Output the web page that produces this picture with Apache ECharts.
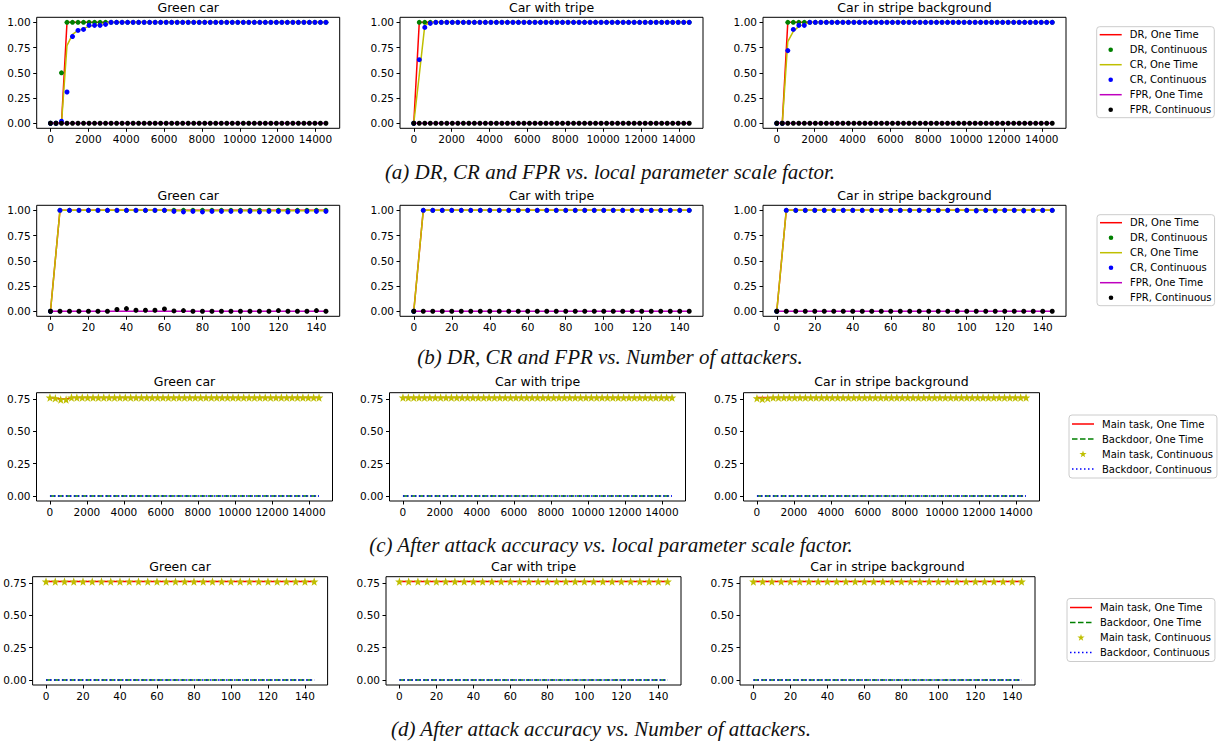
<!DOCTYPE html>
<html>
<head>
<meta charset="utf-8">
<script src="https://cdn.jsdelivr.net/npm/echarts@6/dist/echarts.min.js"></script>
<style>
html,body{margin:0;padding:0;background:#fff;}
#chart{width:1225px;height:744px;}
</style>
</head>
<body>
<div id="chart"></div>
<script>
// ---------------- DATA ----------------
const panelTitles = ['Green car', 'Car with tripe', 'Car in stripe background'];
const captions = [
  '(a) DR, CR and FPR vs. local parameter scale factor.',
  '(b) DR, CR and FPR vs. Number of attackers.',
  '(c) After attack accuracy vs. local parameter scale factor.',
  '(d) After attack accuracy vs. Number of attackers.'
];
const drcrNames = ['DR, One Time', 'DR, Continuous', 'CR, One Time', 'CR, Continuous', 'FPR, One Time', 'FPR, Continuous'];
const accNames = ['Main task, One Time', 'Backdoor, One Time', 'Main task, Continuous', 'Backdoor, Continuous'];

const scaleTicks = [0, 2000, 4000, 6000, 8000, 10000, 12000, 14000];
const attackerTicks = [0, 20, 40, 60, 80, 100, 120, 140];
const rateTicks = [0, 0.25, 0.5, 0.75, 1];
const accTicks = [0, 0.25, 0.5, 0.75];

// local parameter scale factor (x of rows a, c)
const xScale = [0,291,582,873,1164,1455,1746,2037,2328,2619,
  2910,3201,3492,3783,4074,4365,4656,4947,5238,5529,
  5820,6111,6402,6693,6984,7275,7566,7857,8148,8439,
  8730,9021,9312,9603,9894,10185,10476,10767,11058,11349,
  11640,11931,12222,12513,12804,13095,13386,13677,13968,14259,
  14550];
// number of attackers (x of rows b, d)
const xAttackers = [0,5,10,15,20,25,30,35,40,45,
  50,55,60,65,70,75,80,85,90,95,
  100,105,110,115,120,125,130,135,140,145];

// ---- (a) Green car ----
const aGreenDrOne = [0,0,0,1,1,1,1,1,1,1, 1,1,1,1,1,1,1,1,1,1, 1,1,1,1,1,1,1,1,1,1, 1,1,1,1,1,1,1,1,1,1, 1,1,1,1,1,1,1,1,1,1, 1];
const aGreenDrCont = [0,0,0.5,1,1,1,1,1,1,1, 1,1,1,1,1,1,1,1,1,1, 1,1,1,1,1,1,1,1,1,1, 1,1,1,1,1,1,1,1,1,1, 1,1,1,1,1,1,1,1,1,1, 1];
const aGreenCrOne = [0,0,0,0.77,0.88,0.92,0.94,0.96,0.97,0.98, 0.99,1,1,1,1,1,1,1,1,1, 1,1,1,1,1,1,1,1,1,1, 1,1,1,1,1,1,1,1,1,1, 1,1,1,1,1,1,1,1,1,1, 1];
const aGreenCrCont = [0,0,0.02,0.31,0.86,0.92,0.93,0.97,0.97,0.97, 0.98,1,1,1,1,1,1,1,1,1, 1,1,1,1,1,1,1,1,1,1, 1,1,1,1,1,1,1,1,1,1, 1,1,1,1,1,1,1,1,1,1, 1];
const aGreenFprOne = [0,0,0,0,0,0,0,0,0,0, 0,0,0,0,0,0,0,0,0,0, 0,0,0,0,0,0,0,0,0,0, 0,0,0,0,0,0,0,0,0,0, 0,0,0,0,0,0,0,0,0,0, 0];
const aGreenFprCont = [0,0,0,0,0,0,0,0,0,0, 0,0,0,0,0,0,0,0,0,0, 0,0,0,0,0,0,0,0,0,0, 0,0,0,0,0,0,0,0,0,0, 0,0,0,0,0,0,0,0,0,0, 0];
// ---- (a) Car with tripe ----
const aTripeDrOne = [0,1,1,1,1,1,1,1,1,1, 1,1,1,1,1,1,1,1,1,1, 1,1,1,1,1,1,1,1,1,1, 1,1,1,1,1,1,1,1,1,1, 1,1,1,1,1,1,1,1,1,1, 1];
const aTripeDrCont = [0,1,1,1,1,1,1,1,1,1, 1,1,1,1,1,1,1,1,1,1, 1,1,1,1,1,1,1,1,1,1, 1,1,1,1,1,1,1,1,1,1, 1,1,1,1,1,1,1,1,1,1, 1];
const aTripeCrOne = [0,0.48,0.97,1,1,1,1,1,1,1, 1,1,1,1,1,1,1,1,1,1, 1,1,1,1,1,1,1,1,1,1, 1,1,1,1,1,1,1,1,1,1, 1,1,1,1,1,1,1,1,1,1, 1];
const aTripeCrCont = [0,0.63,0.95,0.99,1,1,1,1,1,1, 1,1,1,1,1,1,1,1,1,1, 1,1,1,1,1,1,1,1,1,1, 1,1,1,1,1,1,1,1,1,1, 1,1,1,1,1,1,1,1,1,1, 1];
const aTripeFprOne = [0,0,0,0,0,0,0,0,0,0, 0,0,0,0,0,0,0,0,0,0, 0,0,0,0,0,0,0,0,0,0, 0,0,0,0,0,0,0,0,0,0, 0,0,0,0,0,0,0,0,0,0, 0];
const aTripeFprCont = [0,0,0,0,0,0,0,0,0,0, 0,0,0,0,0,0,0,0,0,0, 0,0,0,0,0,0,0,0,0,0, 0,0,0,0,0,0,0,0,0,0, 0,0,0,0,0,0,0,0,0,0, 0];
// ---- (a) Car in stripe background ----
const aStripeDrOne = [0,0,1,1,1,1,1,1,1,1, 1,1,1,1,1,1,1,1,1,1, 1,1,1,1,1,1,1,1,1,1, 1,1,1,1,1,1,1,1,1,1, 1,1,1,1,1,1,1,1,1,1, 1];
const aStripeDrCont = [0,0,1,1,1,1,1,1,1,1, 1,1,1,1,1,1,1,1,1,1, 1,1,1,1,1,1,1,1,1,1, 1,1,1,1,1,1,1,1,1,1, 1,1,1,1,1,1,1,1,1,1, 1];
const aStripeCrOne = [0,0,0.81,0.91,0.96,0.98,1,1,1,1, 1,1,1,1,1,1,1,1,1,1, 1,1,1,1,1,1,1,1,1,1, 1,1,1,1,1,1,1,1,1,1, 1,1,1,1,1,1,1,1,1,1, 1];
const aStripeCrCont = [0,0,0.72,0.93,0.97,0.97,1,1,1,1, 1,1,1,1,1,1,1,1,1,1, 1,1,1,1,1,1,1,1,1,1, 1,1,1,1,1,1,1,1,1,1, 1,1,1,1,1,1,1,1,1,1, 1];
const aStripeFprOne = [0,0,0,0,0,0,0,0,0,0, 0,0,0,0,0,0,0,0,0,0, 0,0,0,0,0,0,0,0,0,0, 0,0,0,0,0,0,0,0,0,0, 0,0,0,0,0,0,0,0,0,0, 0];
const aStripeFprCont = [0,0,0,0,0,0,0,0,0,0, 0,0,0,0,0,0,0,0,0,0, 0,0,0,0,0,0,0,0,0,0, 0,0,0,0,0,0,0,0,0,0, 0,0,0,0,0,0,0,0,0,0, 0];

// ---- (b) Green car ----
const bGreenDrOne = [0,1,1,1,1,1,1,1,1,1, 1,1,1,1,1,1,1,1,1,1, 1,1,1,1,1,1,1,1,1,1];
const bGreenDrCont = [0,1,1,1,1,1,1,1,1,1, 1,1,1,1,1,1,1,1,1,1, 1,1,1,1,1,1,1,1,1,1];
const bGreenCrOne = [0,1,1,1,1,1,1,1,1,1, 1,1,1,0.995,0.995,0.995,0.995,0.995,0.995,0.995, 0.995,0.995,0.995,0.995,0.995,0.995,0.995,0.995,0.995,0.995];
const bGreenCrCont = [0,1,1,1,1,1,1,1,1,1, 1,1,1,0.99,0.985,0.99,0.985,0.99,0.99,0.99, 0.99,0.99,0.985,0.99,0.99,0.985,0.99,0.99,0.99,0.99];
const bGreenFprOne = [0,0,0,0,0,0,0,0,0,0, 0,0,0,0,0,0,0,0,0,0, 0,0,0,0,0,0,0,0,0,0];
const bGreenFprCont = [0,0,0,0,0,0,0,0.017,0.026,0.01, 0.01,0.01,0.023,0.003,0.007,0,0,0,0,0, 0,0,0,0,0.007,0,0,0,0.007,0];
// ---- (b) Car with tripe ----
const bTripeDrOne = [0,1,1,1,1,1,1,1,1,1, 1,1,1,1,1,1,1,1,1,1, 1,1,1,1,1,1,1,1,1,1];
const bTripeDrCont = [0,1,1,1,1,1,1,1,1,1, 1,1,1,1,1,1,1,1,1,1, 1,1,1,1,1,1,1,1,1,1];
const bTripeCrOne = [0,1,1,1,1,1,1,1,1,1, 1,1,1,1,1,1,1,1,1,1, 1,1,1,1,1,1,1,1,1,1];
const bTripeCrCont = [0,1,1,1,1,1,1,1,1,1, 1,1,1,1,1,1,1,1,1,1, 1,1,1,1,1,1,1,1,1,1];
const bTripeFprOne = [0,0,0,0,0,0,0,0,0,0, 0,0,0,0,0,0,0,0,0,0, 0,0,0,0,0,0,0,0,0,0];
const bTripeFprCont = [0,0,0,0,0,0,0,0,0,0, 0,0,0,0,0,0,0,0,0,0, 0,0,0,0,0,0,0,0,0,0];
// ---- (b) Car in stripe background ----
const bStripeDrOne = [0,1,1,1,1,1,1,1,1,1, 1,1,1,1,1,1,1,1,1,1, 1,1,1,1,1,1,1,1,1,1];
const bStripeDrCont = [0,1,1,1,1,1,1,1,1,1, 1,1,1,1,1,1,1,1,1,1, 1,1,1,1,1,1,1,1,1,1];
const bStripeCrOne = [0,1,1,1,1,1,1,1,1,1, 1,1,1,1,1,1,1,1,1,1, 1,1,1,1,1,1,1,1,1,1];
const bStripeCrCont = [0,1,1,1,1,1,1,1,1,1, 1,1,1,1,1,1,1,1,1,1, 1,0.995,1,0.995,1,1,0.995,1,1,1];
const bStripeFprOne = [0,0,0,0,0,0,0,0,0,0, 0,0,0,0,0,0,0,0,0,0, 0,0,0,0,0,0,0,0,0,0];
const bStripeFprCont = [0,0,0,0,0,0,0,0,0,0, 0,0,0,0,0,0,0,0,0,0, 0,0,0,0,0,0,0,0,0,0];

// ---- (c) accuracy vs scale factor ----
const cGreenMainOne = [0.76,0.755,0.75,0.75,0.76,0.76,0.76,0.76,0.76,0.76, 0.76,0.76,0.76,0.76,0.76,0.76,0.76,0.76,0.76,0.76, 0.76,0.76,0.76,0.76,0.76,0.76,0.76,0.76,0.76,0.76, 0.76,0.76,0.76,0.76,0.76,0.76,0.76,0.76,0.76,0.76, 0.76,0.76,0.76,0.76,0.76,0.76,0.76,0.76,0.76,0.76, 0.76];
const cGreenBackOne = [0,0,0,0,0,0,0,0,0,0, 0,0,0,0,0,0,0,0,0,0, 0,0,0,0,0,0,0,0,0,0, 0,0,0,0,0,0,0,0,0,0, 0,0,0,0,0,0,0,0,0,0, 0];
const cGreenMainCont = [0.76,0.755,0.745,0.745,0.76,0.76,0.76,0.76,0.76,0.76, 0.76,0.76,0.76,0.76,0.76,0.76,0.76,0.76,0.76,0.76, 0.76,0.76,0.76,0.76,0.76,0.76,0.76,0.76,0.76,0.76, 0.76,0.76,0.76,0.76,0.76,0.76,0.76,0.76,0.76,0.76, 0.76,0.76,0.76,0.76,0.76,0.76,0.76,0.76,0.76,0.76, 0.76];
const cGreenBackCont = [0,0,0,0,0,0,0,0,0,0, 0,0,0,0,0,0,0,0,0,0, 0,0,0,0,0,0,0,0,0,0, 0,0,0,0,0,0,0,0,0,0, 0,0,0,0,0,0,0,0,0,0, 0];
const cTripeMainOne = [0.76,0.76,0.76,0.76,0.76,0.76,0.76,0.76,0.76,0.76, 0.76,0.76,0.76,0.76,0.76,0.76,0.76,0.76,0.76,0.76, 0.76,0.76,0.76,0.76,0.76,0.76,0.76,0.76,0.76,0.76, 0.76,0.76,0.76,0.76,0.76,0.76,0.76,0.76,0.76,0.76, 0.76,0.76,0.76,0.76,0.76,0.76,0.76,0.76,0.76,0.76, 0.76];
const cTripeBackOne = [0,0,0,0,0,0,0,0,0,0, 0,0,0,0,0,0,0,0,0,0, 0,0,0,0,0,0,0,0,0,0, 0,0,0,0,0,0,0,0,0,0, 0,0,0,0,0,0,0,0,0,0, 0];
const cTripeMainCont = [0.76,0.76,0.76,0.76,0.76,0.76,0.76,0.76,0.76,0.76, 0.76,0.76,0.76,0.76,0.76,0.76,0.76,0.76,0.76,0.76, 0.76,0.76,0.76,0.76,0.76,0.76,0.76,0.76,0.76,0.76, 0.76,0.76,0.76,0.76,0.76,0.76,0.76,0.76,0.76,0.76, 0.76,0.76,0.76,0.76,0.76,0.76,0.76,0.76,0.76,0.76, 0.76];
const cTripeBackCont = [0,0,0,0,0,0,0,0,0,0, 0,0,0,0,0,0,0,0,0,0, 0,0,0,0,0,0,0,0,0,0, 0,0,0,0,0,0,0,0,0,0, 0,0,0,0,0,0,0,0,0,0, 0];
const cStripeMainOne = [0.76,0.76,0.76,0.76,0.76,0.76,0.76,0.76,0.76,0.76, 0.76,0.76,0.76,0.76,0.76,0.76,0.76,0.76,0.76,0.76, 0.76,0.76,0.76,0.76,0.76,0.76,0.76,0.76,0.76,0.76, 0.76,0.76,0.76,0.76,0.76,0.76,0.76,0.76,0.76,0.76, 0.76,0.76,0.76,0.76,0.76,0.76,0.76,0.76,0.76,0.76, 0.76];
const cStripeBackOne = [0,0,0,0,0,0,0,0,0,0, 0,0,0,0,0,0,0,0,0,0, 0,0,0,0,0,0,0,0,0,0, 0,0,0,0,0,0,0,0,0,0, 0,0,0,0,0,0,0,0,0,0, 0];
const cStripeMainCont = [0.755,0.75,0.755,0.76,0.76,0.76,0.76,0.76,0.76,0.76, 0.76,0.76,0.76,0.76,0.76,0.76,0.76,0.76,0.76,0.76, 0.76,0.76,0.76,0.76,0.76,0.76,0.76,0.76,0.76,0.76, 0.76,0.76,0.76,0.76,0.76,0.76,0.76,0.76,0.76,0.76, 0.76,0.76,0.76,0.76,0.76,0.76,0.76,0.76,0.76,0.76, 0.76];
const cStripeBackCont = [0,0,0,0,0,0,0,0,0,0, 0,0,0,0,0,0,0,0,0,0, 0,0,0,0,0,0,0,0,0,0, 0,0,0,0,0,0,0,0,0,0, 0,0,0,0,0,0,0,0,0,0, 0];

// ---- (d) accuracy vs number of attackers ----
const dGreenMainOne = [0.76,0.76,0.76,0.76,0.76,0.76,0.76,0.76,0.76,0.76, 0.76,0.76,0.76,0.76,0.76,0.76,0.76,0.76,0.76,0.76, 0.76,0.76,0.76,0.76,0.76,0.76,0.76,0.76,0.76,0.76];
const dGreenBackOne = [0,0,0,0,0,0,0,0,0,0, 0,0,0,0,0,0,0,0,0,0, 0,0,0,0,0,0,0,0,0,0];
const dGreenMainCont = [0.76,0.76,0.76,0.76,0.76,0.76,0.76,0.76,0.76,0.76, 0.76,0.76,0.76,0.76,0.76,0.76,0.76,0.76,0.76,0.76, 0.76,0.76,0.76,0.76,0.76,0.76,0.76,0.76,0.76,0.76];
const dGreenBackCont = [0,0,0,0,0,0,0,0,0,0, 0,0,0,0,0,0,0,0,0,0, 0,0,0,0,0,0,0,0,0,0];
const dTripeMainOne = [0.76,0.76,0.76,0.76,0.76,0.76,0.76,0.76,0.76,0.76, 0.76,0.76,0.76,0.76,0.76,0.76,0.76,0.76,0.76,0.76, 0.76,0.76,0.76,0.76,0.76,0.76,0.76,0.76,0.76,0.76];
const dTripeBackOne = [0,0,0,0,0,0,0,0,0,0, 0,0,0,0,0,0,0,0,0,0, 0,0,0,0,0,0,0,0,0,0];
const dTripeMainCont = [0.76,0.76,0.76,0.76,0.76,0.76,0.76,0.76,0.76,0.76, 0.76,0.76,0.76,0.76,0.76,0.76,0.76,0.76,0.76,0.76, 0.76,0.76,0.76,0.76,0.76,0.76,0.76,0.76,0.76,0.76];
const dTripeBackCont = [0,0,0,0,0,0,0,0,0,0, 0,0,0,0,0,0,0,0,0,0, 0,0,0,0,0,0,0,0,0,0];
const dStripeMainOne = [0.76,0.76,0.76,0.76,0.76,0.76,0.76,0.76,0.76,0.76, 0.76,0.76,0.76,0.76,0.76,0.76,0.76,0.76,0.76,0.76, 0.76,0.76,0.76,0.76,0.76,0.76,0.76,0.76,0.76,0.76];
const dStripeBackOne = [0,0,0,0,0,0,0,0,0,0, 0,0,0,0,0,0,0,0,0,0, 0,0,0,0,0,0,0,0,0,0];
const dStripeMainCont = [0.76,0.76,0.76,0.76,0.76,0.76,0.76,0.76,0.76,0.76, 0.76,0.76,0.76,0.76,0.76,0.76,0.76,0.76,0.76,0.76, 0.76,0.76,0.76,0.76,0.76,0.76,0.76,0.76,0.76,0.76];
const dStripeBackCont = [0,0,0,0,0,0,0,0,0,0, 0,0,0,0,0,0,0,0,0,0, 0,0,0,0,0,0,0,0,0,0];

// ---------------- STYLE / LAYOUT ----------------
const FONT = 'DejaVu Sans';
const BOX = 'M0,0M22,0M22,10M0,10';
const DOT_ICON = 'path://' + BOX + 'M13.3,5A2.3,2.3,0,1,1,8.7,5A2.3,2.3,0,1,1,13.3,5Z';
const STAR_ICON = 'path://' + BOX + 'M11,1.4L11.85,4L14.6,4.05L12.4,5.7L13.2,8.35L11,6.8L8.8,8.35L9.6,5.7L7.4,4.05L10.15,4Z';
const SOLID_ICON = 'path://' + BOX + 'M0,4.25L22,4.25L22,5.75L0,5.75Z';
const DASH_ICON = 'path://' + BOX + 'M0,4.25L5.5,4.25L5.5,5.75L0,5.75ZM8,4.25L13.5,4.25L13.5,5.75L8,5.75ZM16,4.25L21.5,4.25L21.5,5.75L16,5.75Z';
const DOTTED_ICON = 'path://' + BOX + 'M0,4.25L1.5,4.25L1.5,5.75L0,5.75ZM4,4.25L5.5,4.25L5.5,5.75L4,5.75ZM8,4.25L9.5,4.25L9.5,5.75L8,5.75ZM12,4.25L13.5,4.25L13.5,5.75L12,5.75ZM16,4.25L17.5,4.25L17.5,5.75L16,5.75ZM20,4.25L21.5,4.25L21.5,5.75L20,5.75Z';
const STAR = 'path://M0,-10L2.35,-3.24L9.51,-3.09L3.8,1.24L5.88,8.09L0,4L-5.88,8.09L-3.8,1.24L-9.51,-3.09L-2.35,-3.24Z';

const styles = {
  'DR, One Time': {kind: 'line', color: '#ff0000', icon: SOLID_ICON},
  'DR, Continuous': {kind: 'dot', color: '#008000', size: 5, icon: DOT_ICON},
  'CR, One Time': {kind: 'line', color: '#bfbf00', icon: SOLID_ICON},
  'CR, Continuous': {kind: 'dot', color: '#0000ff', size: 5, icon: DOT_ICON},
  'FPR, One Time': {kind: 'line', color: '#bf00bf', icon: SOLID_ICON},
  'FPR, Continuous': {kind: 'dot', color: '#000000', size: 5, icon: DOT_ICON},
  'Main task, One Time': {kind: 'line', color: '#ff0000', icon: SOLID_ICON},
  'Backdoor, One Time': {kind: 'line', color: '#008000', dash: [5.5, 2.4], icon: DASH_ICON},
  'Main task, Continuous': {kind: 'dot', color: '#bfbf00', size: 8.5, symbol: STAR, icon: STAR_ICON},
  'Backdoor, Continuous': {kind: 'line', color: '#0000ff', dash: [1.5, 2.5], icon: DOTTED_ICON}
};

const rows = [
  {x: xScale, names: drcrNames, panels: [
    [aGreenDrOne, aGreenDrCont, aGreenCrOne, aGreenCrCont, aGreenFprOne, aGreenFprCont],
    [aTripeDrOne, aTripeDrCont, aTripeCrOne, aTripeCrCont, aTripeFprOne, aTripeFprCont],
    [aStripeDrOne, aStripeDrCont, aStripeCrOne, aStripeCrCont, aStripeFprOne, aStripeFprCont]],
   xTicks: scaleTicks, yTicks: rateTicks},
  {x: xAttackers, names: drcrNames, panels: [
    [bGreenDrOne, bGreenDrCont, bGreenCrOne, bGreenCrCont, bGreenFprOne, bGreenFprCont],
    [bTripeDrOne, bTripeDrCont, bTripeCrOne, bTripeCrCont, bTripeFprOne, bTripeFprCont],
    [bStripeDrOne, bStripeDrCont, bStripeCrOne, bStripeCrCont, bStripeFprOne, bStripeFprCont]],
   xTicks: attackerTicks, yTicks: rateTicks},
  {x: xScale, names: accNames, panels: [
    [cGreenMainOne, cGreenBackOne, cGreenMainCont, cGreenBackCont],
    [cTripeMainOne, cTripeBackOne, cTripeMainCont, cTripeBackCont],
    [cStripeMainOne, cStripeBackOne, cStripeMainCont, cStripeBackCont]],
   xTicks: scaleTicks, yTicks: accTicks},
  {x: xAttackers, names: accNames, panels: [
    [dGreenMainOne, dGreenBackOne, dGreenMainCont, dGreenBackCont],
    [dTripeMainOne, dTripeBackOne, dTripeMainCont, dTripeBackCont],
    [dStripeMainOne, dStripeBackOne, dStripeMainCont, dStripeBackCont]],
   xTicks: attackerTicks, yTicks: accTicks}
];

const layout = [
  {top: 17.3, height: 111, lefts: [36.7, 400, 763], width: 303, xMin: -727.5, xMax: 15277.5, yMin: -0.05, yMax: 1.05,
   titleY: 7.5, legend: {left: 1096.7, top: 26.7, padding: [3, 3, 3, 3]}, capX: 610, capY: 172},
  {top: 205.3, height: 111, lefts: [36.7, 400, 763], width: 303, xMin: -7.25, xMax: 152.25, yMin: -0.05, yMax: 1.05,
   titleY: 195, legend: {left: 1097, top: 214.7, padding: [3, 3, 3, 3]}, capX: 610, capY: 357},
  {top: 392.7, height: 108.3, lefts: [36.5, 389.5, 743.5], width: 296, xMin: -727.5, xMax: 15277.5, yMin: -0.038, yMax: 0.798,
   titleY: 381.7, legend: {left: 1069, top: 415, padding: [4, 4, 4, 3]}, capX: 611, capY: 545},
  {top: 576.7, height: 108.3, lefts: [32.6, 386, 740], width: 295, xMin: -7.25, xMax: 152.25, yMin: -0.038, yMax: 0.798,
   titleY: 566.7, legend: {left: 1067, top: 598.5, padding: [4, 4, 4, 3]}, capX: 601, capY: 729}
];

// ---------------- BUILD OPTION ----------------
const grid = [], xAxis = [], yAxis = [], series = [], graphic = [], legend = [];
let gi = 0;
rows.forEach((row, r) => {
  const L = layout[r];
  row.panels.forEach((panel, p) => {
    grid.push({left: L.lefts[p], top: L.top, width: L.width, height: L.height,
      show: true, borderColor: '#000', borderWidth: 1, backgroundColor: 'transparent'});
    xAxis.push({type: 'value', gridIndex: gi, min: L.xMin, max: L.xMax,
      splitLine: {show: false}, axisLine: {show: false, onZero: false},
      axisTick: {show: true, length: 3.5, lineStyle: {color: '#000', width: 1}, customValues: row.xTicks},
      axisLabel: {customValues: row.xTicks, fontSize: 10.5, fontFamily: FONT, color: '#000', margin: 5,
        formatter: v => String(v)}});
    yAxis.push({type: 'value', gridIndex: gi, min: L.yMin, max: L.yMax,
      splitLine: {show: false}, axisLine: {show: false, onZero: false},
      axisTick: {show: true, length: 3.5, lineStyle: {color: '#000', width: 1}, customValues: row.yTicks},
      axisLabel: {customValues: row.yTicks, fontSize: 10.5, fontFamily: FONT, color: '#000', margin: 6,
        formatter: v => Number(v).toFixed(2)}});
    panel.forEach((ys, k) => {
      const name = row.names[k];
      const st = styles[name];
      const data = row.x.map((xv, i) => [xv, ys[i]]);
      const base = {name, xAxisIndex: gi, yAxisIndex: gi, data, z: 2 + k, animation: false, silent: true};
      if (st.kind === 'line') {
        series.push(Object.assign(base, {type: 'line', symbol: 'none', showSymbol: false,
          lineStyle: {color: st.color, width: 1.5, type: st.dash || 'solid', opacity: 1}, itemStyle: {color: st.color}}));
      } else {
        series.push(Object.assign(base, {type: 'scatter', symbol: st.symbol || 'circle', symbolSize: st.size,
          itemStyle: {color: st.color, borderWidth: 0, opacity: 1}}));
      }
    });
    graphic.push({type: 'text', x: L.lefts[p] + L.width / 2, y: L.titleY, silent: true,
      style: {text: panelTitles[p], fill: '#000', fontSize: 12.5, fontFamily: FONT,
        align: 'center', verticalAlign: 'middle', textAlign: 'center', textVerticalAlign: 'middle'}});
    gi++;
  });
  graphic.push({type: 'text', x: L.capX, y: L.capY, silent: true,
    style: {text: captions[r], fill: '#111', fontSize: 21, fontStyle: 'italic', fontFamily: 'Liberation Serif',
      align: 'center', verticalAlign: 'middle', textAlign: 'center', textVerticalAlign: 'middle'}});
  legend.push({left: L.legend.left, top: L.legend.top, orient: 'vertical', padding: L.legend.padding,
    itemWidth: 22, itemHeight: 10, itemGap: 5, selectedMode: false,
    backgroundColor: '#fff', borderColor: '#cccccc', borderWidth: 1, borderRadius: 3,
    textStyle: {fontSize: 10, fontFamily: FONT, color: '#000', lineHeight: 10, padding: [0, 0, 0, 3]},
    data: row.names.map(n => ({name: n, icon: styles[n].icon,
      itemStyle: {color: styles[n].color, borderWidth: 0, opacity: 1}}))});
});

const chart = echarts.init(document.getElementById('chart'), null, {renderer: 'svg'});
chart.setOption({
  animation: false,
  backgroundColor: '#fff',
  grid, xAxis, yAxis, series, legend, graphic
});
</script>
</body>
</html>
